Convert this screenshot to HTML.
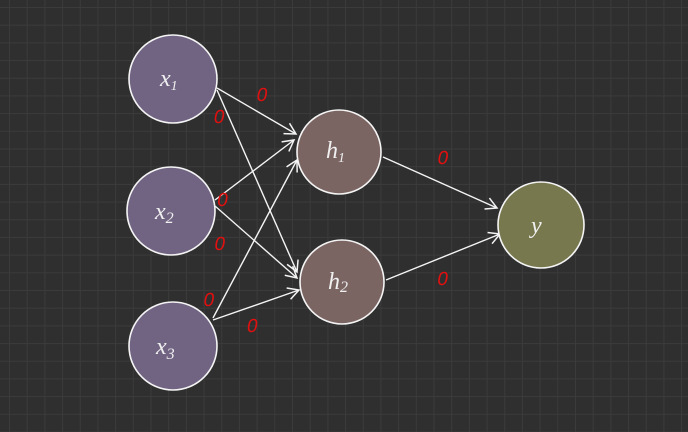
<!DOCTYPE html>
<html><head><style>
html,body{margin:0;padding:0}
body{width:688px;height:432px;overflow:hidden;background:#2f2f2f;
background-image:linear-gradient(to right,#3b3b3b 1px,transparent 1px),linear-gradient(to bottom,#3b3b3b 1px,transparent 1px);
background-size:17.7px 17.7px;background-position:9px 7px;}
svg{position:absolute;left:0;top:0}
text{font-family:"Liberation Serif",serif;font-style:italic}
.z text{font-family:"Liberation Sans",sans-serif;font-style:normal}
</style></head><body>
<svg width="688" height="432" viewBox="0 0 688 432">
<defs><marker id="a" markerWidth="14" markerHeight="14" refX="12" refY="7" orient="auto" markerUnits="userSpaceOnUse">
<path d="M1,1 L12,7 L1,13" fill="none" stroke="#f4f4f4" stroke-width="1.5"/></marker></defs>
<g stroke="#f4f4f4" stroke-width="1.4" fill="none" marker-end="url(#a)">
<line x1="217" y1="88" x2="296" y2="134"/>
<line x1="217" y1="90" x2="297" y2="272"/>
<line x1="215" y1="200" x2="294" y2="140"/>
<line x1="215" y1="206" x2="297" y2="278"/>
<line x1="213" y1="318" x2="297" y2="160"/>
<line x1="213" y1="320" x2="299" y2="290"/>
<line x1="383" y1="157" x2="497" y2="208"/>
<line x1="386" y1="280" x2="500" y2="234"/>
</g>
<g stroke="#f4f4f4" stroke-width="1.6">
<circle cx="173" cy="79" r="44" fill="#716483"/>
<circle cx="171" cy="211" r="44" fill="#716483"/>
<circle cx="173" cy="346" r="44" fill="#716483"/>
<circle cx="339" cy="152" r="42" fill="#7b6563"/>
<circle cx="342" cy="282" r="42" fill="#7b6563"/>
<circle cx="541" cy="225" r="43" fill="#78784f"/>
</g>
<g fill="#f0f0f0" font-size="24">
<text x="160" y="86">x<tspan font-size="14" dy="4">1</tspan></text>
<text x="155" y="219">x<tspan font-size="16" dy="4">2</tspan></text>
<text x="156" y="354">x<tspan font-size="16" dy="5">3</tspan></text>
<text x="326" y="158">h<tspan font-size="14" dy="4">1</tspan></text>
<text x="328" y="289">h<tspan font-size="16" dy="3">2</tspan></text>
<text x="531" y="233">y</text>
</g>
<g class="z" fill="#e01010" font-size="19" text-anchor="middle">
<text x="262" y="101" transform="skewX(-10) translate(17 0)">0</text>
<text x="218" y="123" transform="skewX(-10) translate(22 0)">0</text>
<text x="222" y="206" transform="skewX(-10) translate(36 0)">0</text>
<text x="219" y="250" transform="skewX(-10) translate(44 0)">0</text>
<text x="209" y="306" transform="skewX(-10) translate(53 0)">0</text>
<text x="252" y="332" transform="skewX(-10) translate(58 0)">0</text>
<text x="442" y="164" transform="skewX(-10) translate(29 0)">0</text>
<text x="442" y="285" transform="skewX(-10) translate(50 0)">0</text>
</g>
</svg>
</body></html>
